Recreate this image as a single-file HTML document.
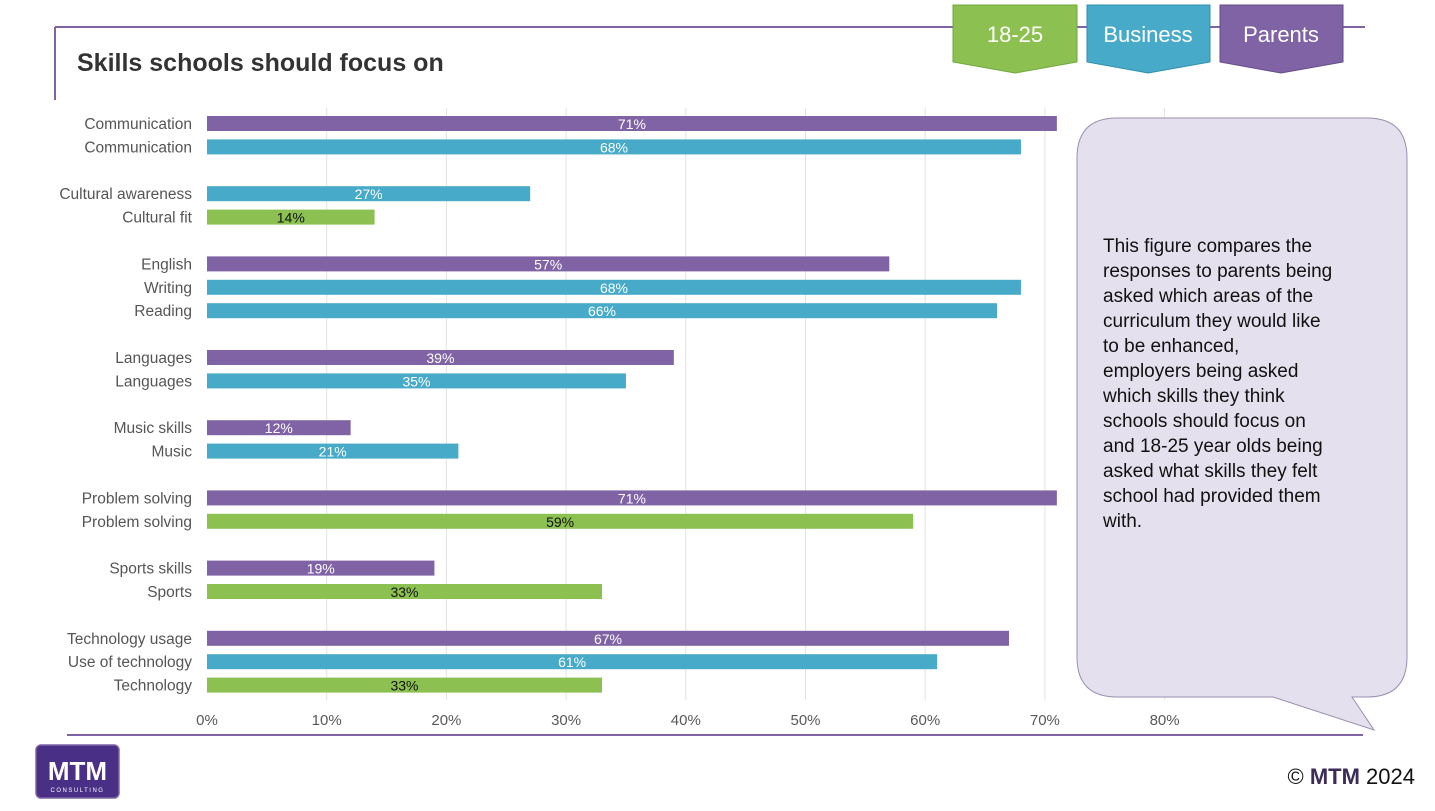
<!DOCTYPE html>
<html><head><meta charset="utf-8">
<style>
html,body{margin:0;padding:0;background:#fff;}
svg{display:block;font-family:"Liberation Sans","DejaVu Sans",sans-serif;}
</style></head>
<body>
<svg id="chart" width="1435" height="811" viewBox="0 0 1435 811" xmlns="http://www.w3.org/2000/svg">
  <line x1="55" y1="27" x2="1365" y2="27" stroke="#7f63a5" stroke-width="2"/>
  <line x1="55" y1="27" x2="55" y2="100" stroke="#7f63a5" stroke-width="2"/>
  <text x="77" y="71" font-size="25" font-weight="bold" fill="#333">Skills schools should focus on</text>

  <g>
    <polygon points="953,5 1077,5 1077,62 1015,73 953,62" fill="#8cc152" stroke="#6fa83a" stroke-width="1"/>
    <text x="1015" y="42" font-size="22" fill="#fff" text-anchor="middle">18-25</text>
  </g>
  <g>
    <polygon points="1087,5 1210,5 1210,62 1148,73 1087,62" fill="#47aac8" stroke="#2f8fae" stroke-width="1"/>
    <text x="1148" y="42" font-size="22" fill="#fff" text-anchor="middle">Business</text>
  </g>
  <g>
    <polygon points="1220,5 1343,5 1343,62 1281,73 1220,62" fill="#7f63a5" stroke="#654b8a" stroke-width="1"/>
    <text x="1281" y="42" font-size="22" fill="#fff" text-anchor="middle">Parents</text>
  </g>

  <g id="grid"></g>
  <g id="bars"></g>
  <g id="cats"></g>
  <g id="ticks"></g>

  <line x1="67" y1="735" x2="1363" y2="735" stroke="#7f63a5" stroke-width="2"/>

  <path d="M1117,118 L1367,118 Q1407,118 1407,158 L1407,657 Q1407,697 1367,697 L1352,697 L1374,730 L1273,697 L1117,697 Q1077,697 1077,657 L1077,158 Q1077,118 1117,118 Z" fill="#e5e0ee" stroke="#9a8fb0" stroke-width="1"/>
  <text font-size="19" fill="#111">
    <tspan x="1103" y="252">This figure compares the</tspan>
    <tspan x="1103" y="277">responses to parents being</tspan>
    <tspan x="1103" y="302">asked which areas of the</tspan>
    <tspan x="1103" y="327">curriculum they would like</tspan>
    <tspan x="1103" y="352">to be enhanced,</tspan>
    <tspan x="1103" y="377">employers being asked</tspan>
    <tspan x="1103" y="402">which skills they think</tspan>
    <tspan x="1103" y="427">schools should focus on</tspan>
    <tspan x="1103" y="452">and 18-25 year olds being</tspan>
    <tspan x="1103" y="477">asked what skills they felt</tspan>
    <tspan x="1103" y="502">school had provided them</tspan>
    <tspan x="1103" y="527">with.</tspan>
  </text>

  <g>
    <rect x="36" y="745" width="83" height="53" rx="5" fill="#4a2f86" stroke="#7f63a5" stroke-width="1.5"/>
    <text x="77.5" y="780" font-size="26" font-weight="bold" fill="#fff" text-anchor="middle">MTM</text>
    <text x="77.5" y="792" font-size="6" fill="#fff" text-anchor="middle" letter-spacing="1.5">CONSULTING</text>
  </g>
  <text x="1415" y="784" font-size="22" text-anchor="end" fill="#111">© <tspan font-weight="bold" fill="#3a2c55">MTM</tspan> 2024</text>
</svg>
<script>
const categories = ["Communication","Communication","Cultural awareness","Cultural fit","English","Writing","Reading","Languages","Languages","Music skills","Music","Problem solving","Problem solving","Sports skills","Sports","Technology usage","Use of technology","Technology"];
const groups = ["Parents","Business","Business","18-25","Parents","Business","Business","Parents","Business","Parents","Business","Parents","18-25","Parents","18-25","Parents","Business","18-25"];
const values = [71,68,27,14,57,68,66,39,35,12,21,71,59,19,33,67,61,33];
const tickValues = [0,10,20,30,40,50,60,70,80];
const blockIndex = [0,0,1,1,2,2,2,3,3,4,4,5,5,6,6,7,7,7];

const NS = "http://www.w3.org/2000/svg";
const colors = {"Parents":"#7f63a5","Business":"#47aac8","18-25":"#8cc152"};
const x0 = 207, pxPer = 11.97;
function xScale(v){ return x0 + v * pxPer; }
function yCenter(i){ return 123.5 + i * 23.4 + blockIndex[i] * 23.4; }

const grid = document.getElementById('grid');
const ticks = document.getElementById('ticks');
tickValues.forEach(t => {
  if (t > 0) {
    const l = document.createElementNS(NS,'line');
    l.setAttribute('x1', xScale(t)); l.setAttribute('x2', xScale(t));
    l.setAttribute('y1', 108); l.setAttribute('y2', 700);
    l.setAttribute('stroke', '#e2e2e2'); l.setAttribute('stroke-width', 1);
    
    
    grid.appendChild(l);
  }
  const tx = document.createElementNS(NS,'text');
  tx.setAttribute('x', xScale(t)); tx.setAttribute('y', 725);
  tx.setAttribute('text-anchor','middle'); tx.setAttribute('font-size', 15);
  tx.setAttribute('fill', '#595959');
  tx.textContent = t + '%';
  
  
  ticks.appendChild(tx);
});

const bars = document.getElementById('bars');
const cats = document.getElementById('cats');
values.forEach((v, i) => {
  const yc = yCenter(i);
  const r = document.createElementNS(NS,'rect');
  r.setAttribute('x', x0); r.setAttribute('y', yc - 7.5);
  r.setAttribute('width', xScale(v) - x0); r.setAttribute('height', 15);
  r.setAttribute('fill', colors[groups[i]]);
  
  
  bars.appendChild(r);
  const lbl = document.createElementNS(NS,'text');
  lbl.setAttribute('x', (x0 + xScale(v)) / 2); lbl.setAttribute('y', yc + 5.5);
  lbl.setAttribute('text-anchor','middle'); lbl.setAttribute('font-size', 14);
  lbl.setAttribute('fill', groups[i] === '18-25' ? '#111' : '#fff');
  lbl.textContent = v + '%';
  
  
  bars.appendChild(lbl);
  const c = document.createElementNS(NS,'text');
  c.setAttribute('x', 192); c.setAttribute('y', yc + 5.5);
  c.setAttribute('text-anchor','end'); c.setAttribute('font-size', 15.5);
  c.setAttribute('fill', '#555');
  c.textContent = categories[i];
  
  
  cats.appendChild(c);
});
</script>
</body></html>
